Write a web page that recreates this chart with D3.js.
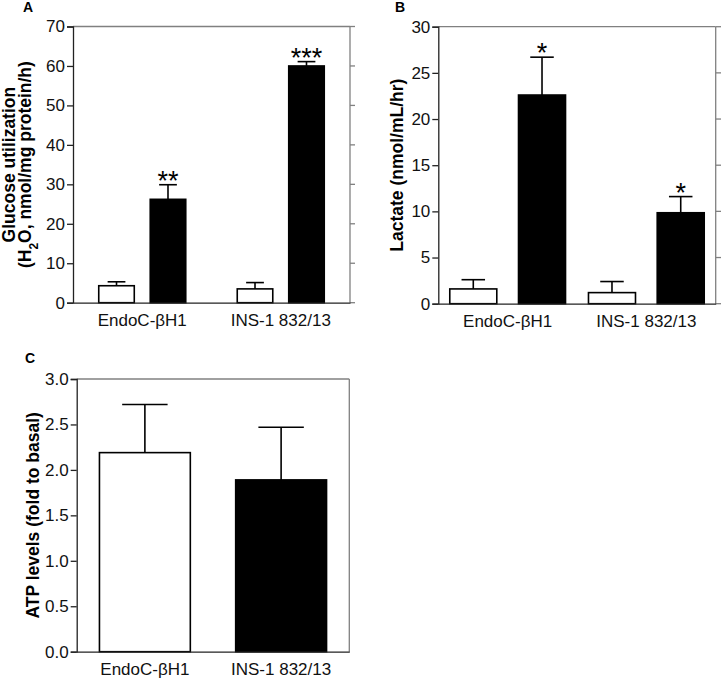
<!DOCTYPE html>
<html><head><meta charset="utf-8">
<script src="https://cdn.jsdelivr.net/npm/d3@7"></script>
<style>
body{margin:0;background:#fff;}
text{font-family:Arial,"Liberation Sans",sans-serif;}
</style></head>
<body><svg id="chart" width="721" height="682"></svg>
<script>
// ---- data ----
const categories = ["EndoC-βH1", "INS-1 832/13"];
const seriesKeys = ["basal", "stim"];

const glucoseBasal = [4.3, 3.5];
const glucoseBasalErr = [1.0, 1.6];
const glucoseStim = [26.2, 60.0];
const glucoseStimErr = [3.7, 1.1];
const glucoseStars = ["**", "***"];
const glucoseTicks = [0, 10, 20, 30, 40, 50, 60, 70];

const lactateBasal = [1.6, 1.2];
const lactateBasalErr = [1.0, 1.2];
const lactateStim = [22.6, 9.85];
const lactateStimErr = [4.1, 1.75];
const lactateStars = ["*", "*"];
const lactateTicks = [0, 5, 10, 15, 20, 25, 30];

const atpMean = [2.19, 1.89];
const atpErr = [0.53, 0.58];
const atpTicks = [0, 0.5, 1.0, 1.5, 2.0, 2.5, 3.0];

// ---- drawing ----
const svg = d3.select("#chart");
svg.append("rect").attr("width", 721).attr("height", 682).attr("fill", "#fff");

const AXIS = "#222", FRAME = "#808080";

function panel(o) {
  const g = svg.append("g");
  const y = d3.scaleLinear().domain(o.domain).range([o.yBot, o.yTop]);
  const xOuter = d3.scaleBand().domain(categories).range([o.x0, o.x1])
    .paddingInner(o.outerPadIn).paddingOuter(o.outerPadOut);

  // frame: top and right
  g.append("line").attr("x1", o.x0).attr("x2", o.x1).attr("y1", o.yTop).attr("y2", o.yTop)
    .attr("stroke", FRAME).attr("stroke-width", 1.3);
  g.append("line").attr("x1", o.x1).attr("x2", o.x1).attr("y1", o.yTop).attr("y2", o.yBot)
    .attr("stroke", FRAME).attr("stroke-width", 1.3);
  if (o.rightTicks) {
    g.selectAll(".rt").data(o.ticks).join("line")
      .attr("x1", o.x1).attr("x2", o.x1 + o.rightTicks)
      .attr("y1", d => y(d)).attr("y2", d => y(d))
      .attr("stroke", FRAME).attr("stroke-width", 1.3);
  }

  // bars
  const rows = o.rows;
  const bx = d => o.inner ? xOuter(d.cat) + o.inner(d.s) : xOuter(d.cat);
  const bw = o.inner ? o.inner.bandwidth() : xOuter.bandwidth();
  // error bars
  g.selectAll(".eb").data(rows).join("line")
    .attr("x1", d => bx(d) + bw / 2).attr("x2", d => bx(d) + bw / 2)
    .attr("y1", d => y(d.v)).attr("y2", d => y(d.v + d.e))
    .attr("stroke", "#000").attr("stroke-width", 1.6);
  g.selectAll(".ec").data(rows).join("line")
    .attr("x1", d => bx(d) + bw / 4).attr("x2", d => bx(d) + bw * 3 / 4)
    .attr("y1", d => y(d.v + d.e)).attr("y2", d => y(d.v + d.e))
    .attr("stroke", "#000").attr("stroke-width", 1.6);
  g.selectAll(".bar").data(rows).join("rect")
    .attr("x", d => bx(d)).attr("width", bw)
    .attr("y", d => y(d.v)).attr("height", d => y(0) - y(d.v))
    .attr("fill", d => d.s === "basal" ? "#fff" : "#000")
    .attr("stroke", "#000").attr("stroke-width", 1.6);
  // stars
  g.selectAll(".star").data(rows.filter(d => d.star)).join("text")
    .attr("x", d => bx(d) + bw / 2).attr("y", d => y(d.v + d.e) + 5)
    .attr("text-anchor", "middle").attr("font-size", 27).attr("fill", "#000")
    .text(d => d.star);

  // left axis
  const ax = g.append("g").attr("transform", `translate(${o.x0},0)`)
    .call(d3.axisLeft(y).tickValues(o.ticks).tickSize(6).tickPadding(2).tickFormat(o.fmt));
  ax.select(".domain").attr("stroke", AXIS).attr("stroke-width", 1.3);
  ax.selectAll(".tick line").attr("stroke", AXIS).attr("stroke-width", 1.3);
  ax.selectAll(".tick text").attr("font-size", 17).attr("fill", "#111")
    .attr("font-family", "Arial, 'Liberation Sans', sans-serif");

  // bottom axis
  const bxAxis = g.append("g").attr("transform", `translate(0,${o.yBot})`)
    .call(d3.axisBottom(xOuter).tickSize(0).tickPadding(0));
  bxAxis.select(".domain").attr("stroke", AXIS).attr("stroke-width", 1.3);
  bxAxis.selectAll(".tick text").attr("font-size", 17).attr("fill", "#111")
    .attr("font-family", "Arial, 'Liberation Sans', sans-serif")
    .attr("dy", 0).attr("y", 23.5);

  // panel letter
  g.append("text").attr("x", o.letterX).attr("y", o.letterY)
    .attr("font-size", 14).attr("font-weight", "bold").text(o.letter);

  // y title
  const cy = (o.yTop + o.yBot) / 2;
  o.title.forEach((t, i) => {
    const tt = g.append("text")
      .attr("transform", `translate(${o.titleX[i]},${cy}) rotate(-90)`)
      .attr("text-anchor", "middle").attr("font-size", 17.5).attr("font-weight", "bold");
    t.forEach(part => {
      const sp = tt.append("tspan").text(part.t);
      if (part.sub) sp.attr("font-size", 12).attr("baseline-shift", "sub");
    });
  });
}

function groupedRows(basal, basalErr, stim, stimErr, stars) {
  return categories.flatMap((c, i) => [
    { cat: c, s: "basal", v: basal[i], e: basalErr[i], star: "" },
    { cat: c, s: "stim", v: stim[i], e: stimErr[i], star: stars[i] }
  ]);
}

// Panel A
{
  const inner = d3.scaleBand().domain(seriesKeys).range([0, 138.5]).paddingInner(0.31).paddingOuter(0.5);
  panel({
    x0: 73, x1: 350, yTop: 26.5, yBot: 302.7, domain: [0, 70], ticks: glucoseTicks, fmt: d3.format("d"),
    rows: groupedRows(glucoseBasal, glucoseBasalErr, glucoseStim, glucoseStimErr, glucoseStars),
    outerPadIn: 0, outerPadOut: 0, inner, rightTicks: 5,
    letter: "A", letterX: 23, letterY: 12,
    title: [[{ t: "Glucose utilization" }],
            [{ t: "(H" }, { t: "2", sub: true }, { t: "O, nmol/mg protein/h)" }]],
    titleX: [15, 31]
  });
}
// Panel B
{
  const inner = d3.scaleBand().domain(seriesKeys).range([0, 138.7]).paddingInner(0.316).paddingOuter(0.167);
  panel({
    x0: 438.3, x1: 715.7, yTop: 26.7, yBot: 303.7, domain: [0, 30], ticks: lactateTicks, fmt: d3.format("d"),
    rows: groupedRows(lactateBasal, lactateBasalErr, lactateStim, lactateStimErr, lactateStars),
    outerPadIn: 0, outerPadOut: 0, inner, rightTicks: 6,
    letter: "B", letterX: 395, letterY: 12,
    title: [[{ t: "Lactate (nmol/mL/hr)" }]],
    titleX: [403]
  });
}
// Panel C
{
  const rows = categories.map((c, i) => ({ cat: c, s: i === 0 ? "basal" : "stim", v: atpMean[i], e: atpErr[i], star: "" }));
  panel({
    x0: 76.7, x1: 349.3, yTop: 379, yBot: 651.7, domain: [0, 3], ticks: atpTicks, fmt: d3.format(".1f"),
    rows, outerPadIn: 0.333, outerPadOut: 0.167, inner: null, rightTicks: 0,
    letter: "C", letterX: 25, letterY: 363,
    title: [[{ t: "ATP levels (fold to basal)" }]],
    titleX: [38.5]
  });
}
</script></body></html>
